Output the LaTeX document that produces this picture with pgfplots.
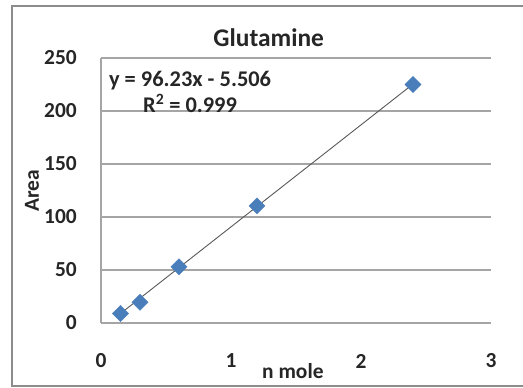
\documentclass[border=0pt]{standalone}
\usepackage{fontspec}
\setmainfont{Carlito}
\usepackage{pgfplots}
\pgfplotsset{compat=1.18}
\definecolor{xlblue}{RGB}{74,126,187}
\definecolor{gridgray}{RGB}{165,165,165}
\definecolor{framegray}{RGB}{140,140,140}
\begin{document}
\begin{tikzpicture}[x=1bp,y=1bp]
\useasboundingbox (0,0) rectangle (523,387);
\fill[white] (0,0) rectangle (523,387);
\draw[framegray, line width=2bp] (530,380.5) -- (12,380.5) -- (12,1.5) -- (530,1.5);
\begin{axis}[
  at={(101bp,64bp)}, anchor=south west,
  width=390bp, height=265bp, scale only axis,
  xmin=0, xmax=3, ymin=0, ymax=250,
  xtick={0,1,2,3}, ytick={0,50,...,250},
  axis lines*=left,
  axis line style={gridgray, line width=1.2bp},
  ymajorgrids,
  major grid style={gridgray, line width=1.2bp},
  major tick length=0pt,
  tick style={draw=none},
  /pgf/number format/assume math mode=true,
  ticklabel style={font=\bfseries\fontsize{21.5}{25}\selectfont, text=black!85},
  xticklabel style={anchor=center, yshift=-38bp},
  yticklabel style={anchor=east, inner sep=0pt, xshift=-24bp},
  title={Glutamine},
  title style={at={(axis description cs:0.43,1.053)}, anchor=center, font=\bfseries\fontsize{25.5}{30}\selectfont, text=black!85},
  xlabel={n mole},
  xlabel style={at={(axis description cs:0.492,-0.181)}, anchor=center, font=\bfseries\fontsize{21.5}{25}\selectfont, text=black!85},
  ylabel={Area},
  ylabel style={at={(axis description cs:-0.177,0.5)}, anchor=center, font=\bfseries\fontsize{21.5}{25}\selectfont, text=black!85},
  clip=false,
]
\addplot[only marks, mark=square*, mark size=5.7bp, mark options={rotate=45, fill=xlblue, draw=xlblue}] coordinates {(0.15,9) (0.3,19.5) (0.6,53) (1.2,110.5) (2.4,225)};
\addplot[draw=black!65, line width=0.9bp, no marks] coordinates {(0.15,8.93) (2.4,225.4)};
\node[align=center, anchor=center, inner sep=0pt, font=\bfseries\fontsize{22.5}{26}\selectfont, text=black!85] at (axis cs:0.685,218) {y = 96.23x - 5.506\\R\textsuperscript{2} = 0.999};
\end{axis}
\end{tikzpicture}
\end{document}
